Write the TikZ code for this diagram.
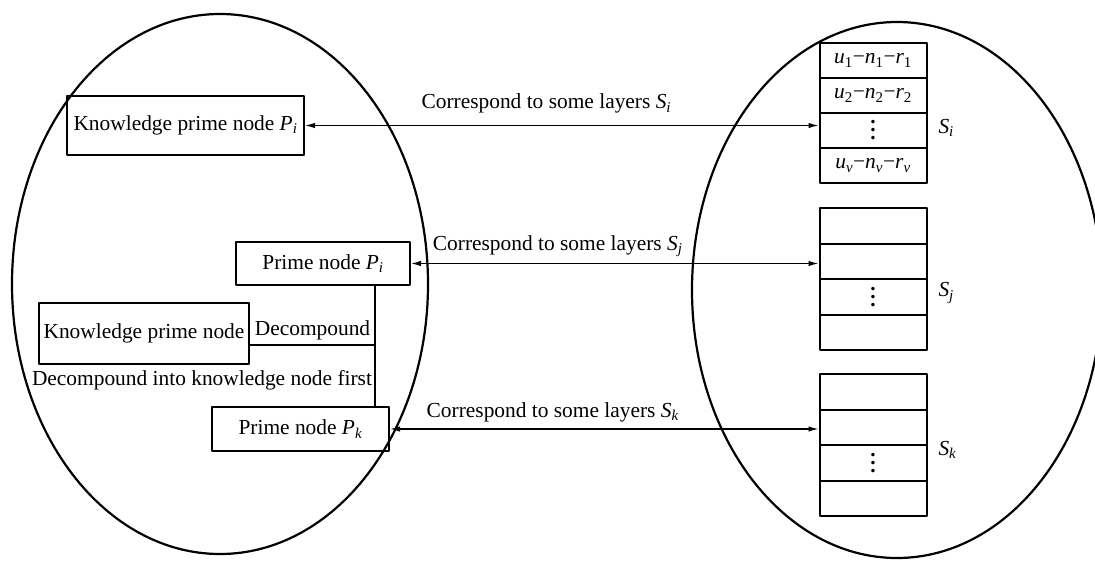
\documentclass[tikz,border=0pt]{standalone}
\usepackage{fontspec}
\setmainfont{Liberation Serif}
\usetikzlibrary{arrows.meta}
\newcommand{\idx}[2]{\textit{#1}\textsubscript{\textit{#2}}}
\newcommand{\term}[2]{\textit{#1}\textsubscript{#2}}
\newcommand{\stackdots}{\vbox{\baselineskip=8pt\lineskiplimit=-20pt\hbox{\textbf{.}}\hbox{\textbf{.}}\hbox{\textbf{.}}}}

\begin{document}
\begin{tikzpicture}[x=1pt, y=-1pt, line cap = round, line join = round, >={Latex[length=10pt,width=5.5pt]}, font=\fontsize{21.4}{25}\selectfont]
\tikzstyle{box}=[draw=black, line width=2pt, rectangle, inner sep=0pt]
\tikzstyle{cell}=[box, minimum width=107pt, minimum height=35.5pt]
\tikzstyle{link}=[line width=1.3pt, <->]
\useasboundingbox (0,0) rectangle (1095,560);

% the two sets
\draw[line width=2.2pt] (220,284) ellipse [x radius=208, y radius=270];
\draw[line width=2.2pt] (897,290) ellipse [x radius=205, y radius=268];

% prime nodes
\node[box, minimum width=237pt, minimum height=59pt] (kpi) at (185.5,125.5) {Knowledge prime node \idx{P}{i}};
\node[box, minimum width=174pt, minimum height=43pt] (pi) at (323,263.5) {Prime node \idx{P}{i}};
\node[box, minimum width=177pt, minimum height=44pt] (pk) at (300.5,429) {Prime node \idx{P}{k}};
\node[box, minimum width=210pt, minimum height=61pt] (kn) at (144,333.5) {Knowledge prime node};
\node (first) at (202,380) {Decompound into knowledge node first};

% layer stacks
\foreach \r/\txt in {1/{\term{u}{1}−\term{n}{1}−\term{r}{1}}, 2/{\term{u}{2}−\term{n}{2}−\term{r}{2}}, 3/{\stackdots}, 4/{\idx{u}{v}−\idx{n}{v}−\idx{r}{v}}}
  \node[cell] (si\r) at (873,{43+35*\r-17.5}) {\txt};
\foreach \s/\top in {j/208, k/374}
  \foreach \r in {1,2,3,4}
    \node[cell] (s\s\r) at (873,{\top+35.5*\r-17.75}) {\ifnum\r=3 \stackdots\fi};
\node[anchor=west] (li) at (935,128) {\idx{S}{i}};
\node[anchor=west] (lj) at (935,293) {\idx{S}{j}};
\node[anchor=west] (lk) at (935,450) {\idx{S}{k}};

% correspondences
\draw[link] (kpi.east) -- (kpi.east -| si3.west) node[pos=0.47, above=8pt] {Correspond to some layers \idx{S}{i}};
\draw[link] (pi.east) -- (pi.east -| sj2.west) node[pos=0.36, above=3pt] {Correspond to some layers \idx{S}{j}};
\draw[link] (pk.east) -- (pk.east -| sk2.west) node[pos=0.38, above=3pt] {Correspond to some layers \idx{S}{k}};

% decomposition
\coordinate (jn) at (375,345);
\draw[line width=1.6pt] (pi.south -| jn) -- (pk.north -| jn);
\draw[line width=1.6pt] (kn.east |- jn) -- (jn) node[pos=0.5, above=1pt] {Decompound};
\end{tikzpicture}
\end{document}
